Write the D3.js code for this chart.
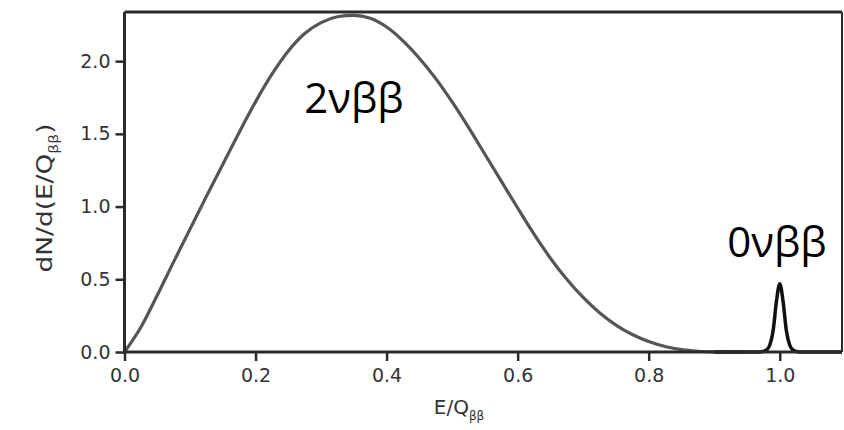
<!DOCTYPE html>
<html>
<head>
<meta charset="utf-8">
<script src="https://cdn.jsdelivr.net/npm/d3@7"></script>
<style>
  html, body { margin: 0; padding: 0; background: #fff; }
  svg { display: block; }
</style>
</head>
<body>
<svg id="chart" width="844" height="430"></svg>
<script>
// 2νββ continuum (E/Qββ, dN/d(E/Qββ))
const twoNuX = [0.00, 0.025, 0.05, 0.075, 0.10, 0.125, 0.15, 0.175, 0.20, 0.225, 0.25, 0.275, 0.30, 0.325, 0.35, 0.375, 0.40, 0.425, 0.45, 0.475, 0.50, 0.525, 0.55, 0.575, 0.60, 0.625, 0.65, 0.675, 0.70, 0.725, 0.75, 0.775, 0.80, 0.825, 0.85, 0.875, 0.90, 0.925, 0.95];
const twoNuY = [0.00, 0.17, 0.39, 0.62, 0.845, 1.07, 1.29, 1.51, 1.72, 1.91, 2.07, 2.19, 2.265, 2.305, 2.315, 2.295, 2.235, 2.14, 2.02, 1.88, 1.72, 1.545, 1.36, 1.175, 0.99, 0.81, 0.645, 0.50, 0.375, 0.27, 0.185, 0.12, 0.072, 0.038, 0.016, 0.005, 0.001, 0.0, 0.0];

// 0νββ peak
const zeroNuX = [0.90, 0.97, 0.975, 0.98, 0.985, 0.99, 0.995, 1.00, 1.005, 1.01, 1.015, 1.02, 1.025, 1.03, 1.095];
const zeroNuY = [0.00, 0.00, 0.004, 0.015, 0.05, 0.15, 0.35, 0.47, 0.35, 0.15, 0.05, 0.015, 0.004, 0.00, 0.00];

const xTicks = [0.0, 0.2, 0.4, 0.6, 0.8, 1.0];
const yTicks = [0.0, 0.5, 1.0, 1.5, 2.0];
const labels = ["2νββ", "0νββ"];

const svg = d3.select("#chart");
const margin = { left: 124.5, right: 2, top: 12, bottom: 78 };
const W = 844, H = 430;

const x = d3.scaleLinear().domain([0, 1.095]).range([margin.left, W - margin.right]);
const y = d3.scaleLinear().domain([0, 2.338]).range([H - margin.bottom, margin.top]);

const tickFont = "'DejaVu Sans', 'Open Sans', sans-serif";
const textColor = "#333";

// curves
const line = d3.line().x(d => x(d[0])).y(d => y(d[1])).curve(d3.curveMonotoneX);
svg.append("path")
  .datum(twoNuX.map((v, i) => [v, twoNuY[i]]))
  .attr("d", line)
  .attr("fill", "none")
  .attr("stroke", "#555")
  .attr("stroke-width", 3.2);

svg.append("path")
  .datum(zeroNuX.map((v, i) => [v, zeroNuY[i]]))
  .attr("d", line)
  .attr("fill", "none")
  .attr("stroke", "#111")
  .attr("stroke-width", 3.5);

// frame
const frameColor = "#2a2a2a";
svg.append("line").attr("x1", x(0)).attr("x2", W - margin.right).attr("y1", margin.top).attr("y2", margin.top)
  .attr("stroke", frameColor).attr("stroke-width", 3);
svg.append("line").attr("x1", W - margin.right).attr("x2", W - margin.right).attr("y1", margin.top).attr("y2", y(0))
  .attr("stroke", frameColor).attr("stroke-width", 2);

// axes
const xAxis = svg.append("g")
  .attr("transform", `translate(0,${y(0)})`)
  .call(d3.axisBottom(x).tickValues(xTicks).tickFormat(d3.format(".1f")).tickSize(9).tickSizeOuter(0).tickPadding(8));
const yAxis = svg.append("g")
  .attr("transform", `translate(${x(0)},0)`)
  .call(d3.axisLeft(y).tickValues(yTicks).tickFormat(d3.format(".1f")).tickSize(9).tickSizeOuter(0).tickPadding(5));

[xAxis, yAxis].forEach(g => {
  g.select(".domain").attr("stroke", frameColor).attr("stroke-width", 3);
  g.selectAll(".tick line").attr("stroke", frameColor).attr("stroke-width", 2.5);
  g.selectAll(".tick text").attr("fill", textColor).style("font-family", tickFont).style("font-size", "19px");
});
xAxis.select(".domain").attr("d", `M${x(0) - 1.5},0H${W - margin.right}`);
yAxis.select(".domain").attr("d", `M0,${margin.top}V${y(0) + 1.5}`);

// axis titles
const xt = svg.append("text")
  .attr("x", 459).attr("y", 414)
  .attr("text-anchor", "middle")
  .attr("fill", textColor)
  .style("font-family", tickFont).style("font-size", "20px");
xt.append("tspan").text("E/Q");
xt.append("tspan").attr("dy", 6).style("font-size", "12px").text("ββ");

const yt = svg.append("text")
  .attr("transform", "translate(52,198) rotate(-90) scale(1.2,1)")
  .attr("text-anchor", "middle")
  .attr("fill", textColor)
  .style("font-family", tickFont).style("font-size", "22px");
yt.append("tspan").text("dN/d(E/Q");
yt.append("tspan").attr("dy", 6).style("font-size", "13px").text("ββ");
yt.append("tspan").attr("dy", -6).text(")");

// annotations
svg.append("text").attr("x", 354).attr("y", 113).attr("text-anchor", "middle")
  .style("font-family", "'Open Sans', 'DejaVu Sans', sans-serif").style("font-size", "42px").attr("fill", "#000")
  .text(labels[0]);
svg.append("text").attr("x", 777).attr("y", 257).attr("text-anchor", "middle")
  .style("font-family", "'Open Sans', 'DejaVu Sans', sans-serif").style("font-size", "42px").attr("fill", "#000")
  .text(labels[1]);
</script>
</body>
</html>
